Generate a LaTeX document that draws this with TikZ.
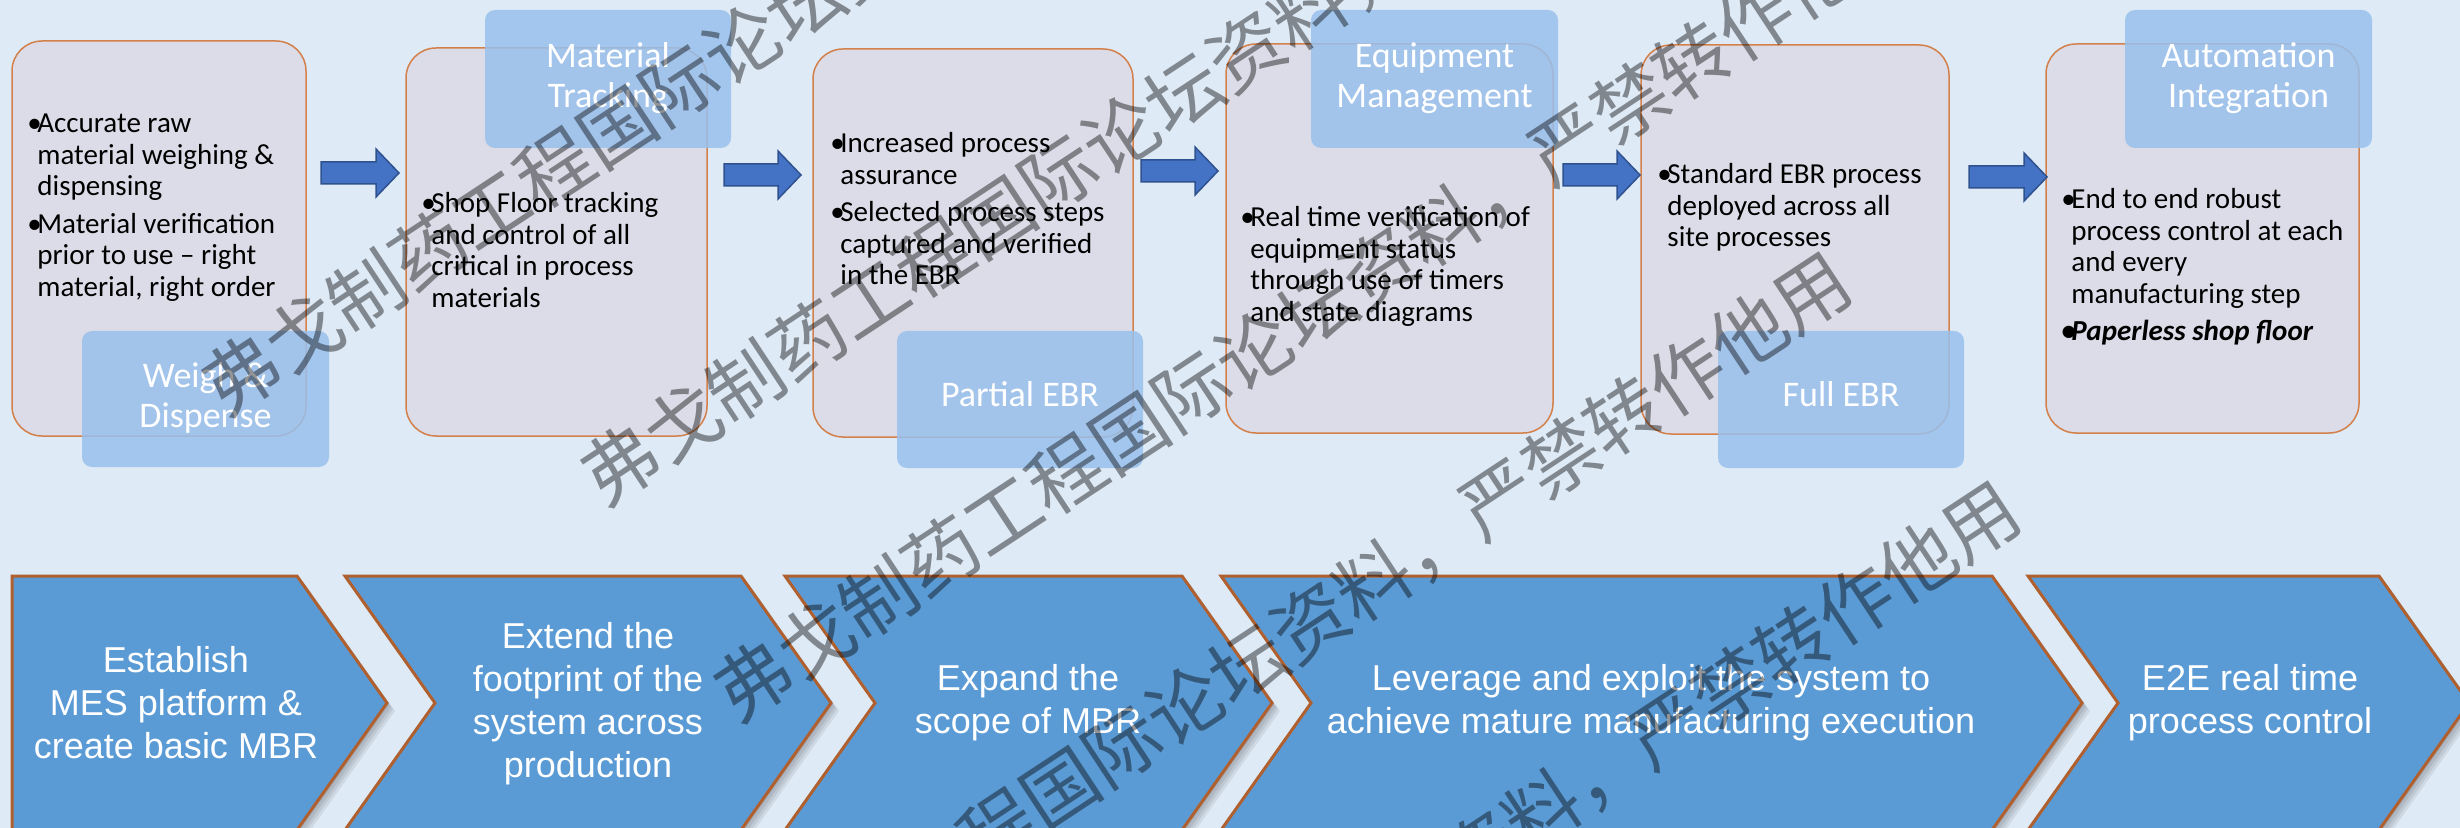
\documentclass[tikz,border=0pt]{standalone}
\usepackage{fontspec}
\setmainfont{Carlito}
\newfontfamily\arialfont{Liberation Sans}
\newfontfamily\cjkfont{Noto Sans CJK SC}
\usetikzlibrary{calc,fit}
\definecolor{bgblue}{RGB}{222,234,246}
\definecolor{boxfill}{RGB}{220,220,232}
\definecolor{boxline}{RGB}{211,128,75}
\definecolor{lblfill}{RGB}{152,192,236}
\definecolor{chevfill}{RGB}{91,155,213}
\definecolor{chevline}{RGB}{176,96,46}
\definecolor{arrfill}{RGB}{68,114,196}
\definecolor{arrline}{RGB}{47,82,143}
\newcommand\bl{\makebox[5pt][l]{\textbullet}}
\newcommand\ind{\hspace*{5pt}}
\newcommand\tline[1]{\hbox{#1}}
\newcommand\chevpath[2]{(#1,576) -- (#2,576) -- ({#2+90},703) -- (#2,830) -- (#1,830) -- ({#1+90},703) -- cycle}
\newcommand\homepath[2]{(#1,576) -- (#2,576) -- ({#2+90},703) -- (#2,830) -- (#1,830) -- cycle}
\newcommand\blockarrow[2]{\draw[barrow] ($(#1)+(0,-11)$) -- ($(#2)+(-23,-11)$) -- ($(#2)+(-23,-24)$) -- (#2) -- ($(#2)+(-23,24)$) -- ($(#2)+(-23,11)$) -- ($(#1)+(0,11)$) -- cycle;}
\begin{document}
\begin{tikzpicture}[x=0.5pt,y=-0.5pt,
  gbox/.style={draw=boxline, line width=0.75pt, fill=boxfill, rounded corners=15pt, inner sep=0pt},
  lblbox/.style={inner sep=0pt, fill=lblfill, fill opacity=0.85, rounded corners=5pt},
  ltext/.style={inner sep=0pt, text=white, font=\fontsize{18}{20}\selectfont, align=center},
  btext/.style={anchor=base west, inner sep=0pt, font=\fontsize{14.5}{15.75}\selectfont},
  chev/.style={fill=chevfill, draw=chevline, line width=1.5pt, line join=miter},
  chevshadow/.style={fill=black, opacity=0.07},
  ctext/.style={text=white, align=center, inner sep=0pt, font=\arialfont\fontsize{18}{21.5}\selectfont},
  barrow/.style={fill=arrfill, draw=arrline, line width=0.75pt},
  wm/.style={anchor=west, inner sep=0pt, rotate=33.4, text=black, text opacity=0.42, font=\cjkfont\fontsize{37.5}{40}\selectfont}
]
\useasboundingbox (0,0) rectangle (2460,828);
\clip (0,0) rectangle (2460,828);
\fill[bgblue] (0,0) rectangle (2460,828);

% grey boxes
\node[gbox, fit={(12,41) (306,436)}] (b1) {};
\node[gbox, fit={(406,48) (707,436)}] (b2) {};
\node[gbox, fit={(813,49) (1133,437)}] (b3) {};
\node[gbox, fit={(1226,44) (1553,433)}] (b4) {};
\node[gbox, fit={(1641,45) (1949,434)}] (b5) {};
\node[gbox, fit={(2046,44) (2359,433)}] (b6) {};

% label boxes
\node[lblbox, fit={(82,331) (329,467)}] (l1) {};
\node[lblbox, fit={(485,10) (731,148)}] (l2) {};
\node[lblbox, fit={(897,331) (1143,468)}] (l3) {};
\node[lblbox, fit={(1311,10) (1558,148)}] (l4) {};
\node[lblbox, fit={(1718,331) (1964,468)}] (l5) {};
\node[lblbox, fit={(2125,10) (2372,148)}] (l6) {};
\node[ltext, yshift=0.5pt] (l1t) at (l1.center) {Weigh \&\\Dispense};
\node[ltext, yshift=0.5pt] (l2t) at (l2.center) {Material\\Tracking};
\node[ltext, yshift=2.5pt] (l3t) at (l3.center) {Partial EBR};
\node[ltext, yshift=0.5pt] (l4t) at (l4.center) {Equipment\\Management};
\node[ltext, yshift=2.5pt] (l5t) at (l5.center) {Full EBR};
\node[ltext, yshift=0.5pt] (l6t) at (l6.center) {Automation\\Integration};

% box texts
\node[btext] (t1) at (27,133) {\vtop{\tline{\bl Accurate raw}\tline{\ind material weighing \&}\tline{\ind dispensing}\vskip3pt\tline{\bl Material verification}\tline{\ind prior to use – right}\tline{\ind material, right order}}};
\node[btext] (t2) at (421,213) {\vtop{\tline{\bl Shop Floor tracking}\tline{\ind and control of all}\tline{\ind critical in process}\tline{\ind materials}}};
\node[btext] (t3) at (830,153) {\vtop{\tline{\bl Increased process}\tline{\ind assurance}\vskip3pt\tline{\bl Selected process steps}\tline{\ind captured and verified}\tline{\ind in the EBR}}};
\node[btext] (t4) at (1240,227) {\vtop{\tline{\bl Real time verification of}\tline{\ind equipment status}\tline{\ind through use of timers}\tline{\ind and state diagrams}}};
\node[btext] (t5) at (1657,184) {\vtop{\tline{\bl Standard EBR process}\tline{\ind deployed across all}\tline{\ind site processes}}};
\node[btext] (t6) at (2061,209) {\vtop{\tline{\bl End to end robust}\tline{\ind process control at each}\tline{\ind and every}\tline{\ind manufacturing step}\vskip3pt\tline{\bfseries\itshape\bl Paperless shop floor}}};

% block arrows
\coordinate (a1s) at (321,173); \coordinate (a1e) at (399,173);
\coordinate (a2s) at (724,175); \coordinate (a2e) at (801,175);
\coordinate (a3s) at (1141,171); \coordinate (a3e) at (1218,171);
\coordinate (a4s) at (1563,175); \coordinate (a4e) at (1640,175);
\coordinate (a5s) at (1969,177); \coordinate (a5e) at (2047,177);
\blockarrow{a1s}{a1e}
\blockarrow{a2s}{a2e}
\blockarrow{a3s}{a3e}
\blockarrow{a4s}{a4e}
\blockarrow{a5s}{a5e}

% chevrons: shadows
\foreach \d in {2,4,6,8}{
  \fill[chevshadow, shift={(\d,\d)}] \homepath{12}{297};
  \fill[chevshadow, shift={(\d,\d)}] \chevpath{345}{741};
  \fill[chevshadow, shift={(\d,\d)}] \chevpath{785}{1182};
  \fill[chevshadow, shift={(\d,\d)}] \chevpath{1221}{1992};
  \fill[chevshadow, shift={(\d,\d)}] \chevpath{2028}{2379};
}
\draw[chev] \homepath{12}{297};
\draw[chev] \chevpath{345}{741};
\draw[chev] \chevpath{785}{1182};
\draw[chev] \chevpath{1221}{1992};
\draw[chev] \chevpath{2028}{2379};

\node[ctext] (c1) at (176,703) {Establish\\MES platform \&\\create basic MBR};
\node[ctext] (c2) at (588,704) {Extend the\\footprint of the\\system across\\production};
\node[ctext] (c3) at (1028,703) {Expand the\\scope of MBR};
\node[ctext] (c4) at (1651,703) {Leverage and exploit the system to\\achieve mature manufacturing execution};
\node[ctext] (c5) at (2250,703) {E2E real time\\process control};

% watermarks
\node[wm] (w1) at (210,396) {弗戈制药工程国际论坛资料，严禁转作他用};
\node[wm] (w2) at (589,486) {弗戈制药工程国际论坛资料，严禁转作他用};
\node[wm] (w3) at (722,702) {弗戈制药工程国际论坛资料，严禁转作他用};
\node[wm] (w4) at (653,1057) {弗戈制药工程国际论坛资料，严禁转作他用};
\node[wm] (w5) at (822,1286) {弗戈制药工程国际论坛资料，严禁转作他用};
\end{tikzpicture}
\end{document}
